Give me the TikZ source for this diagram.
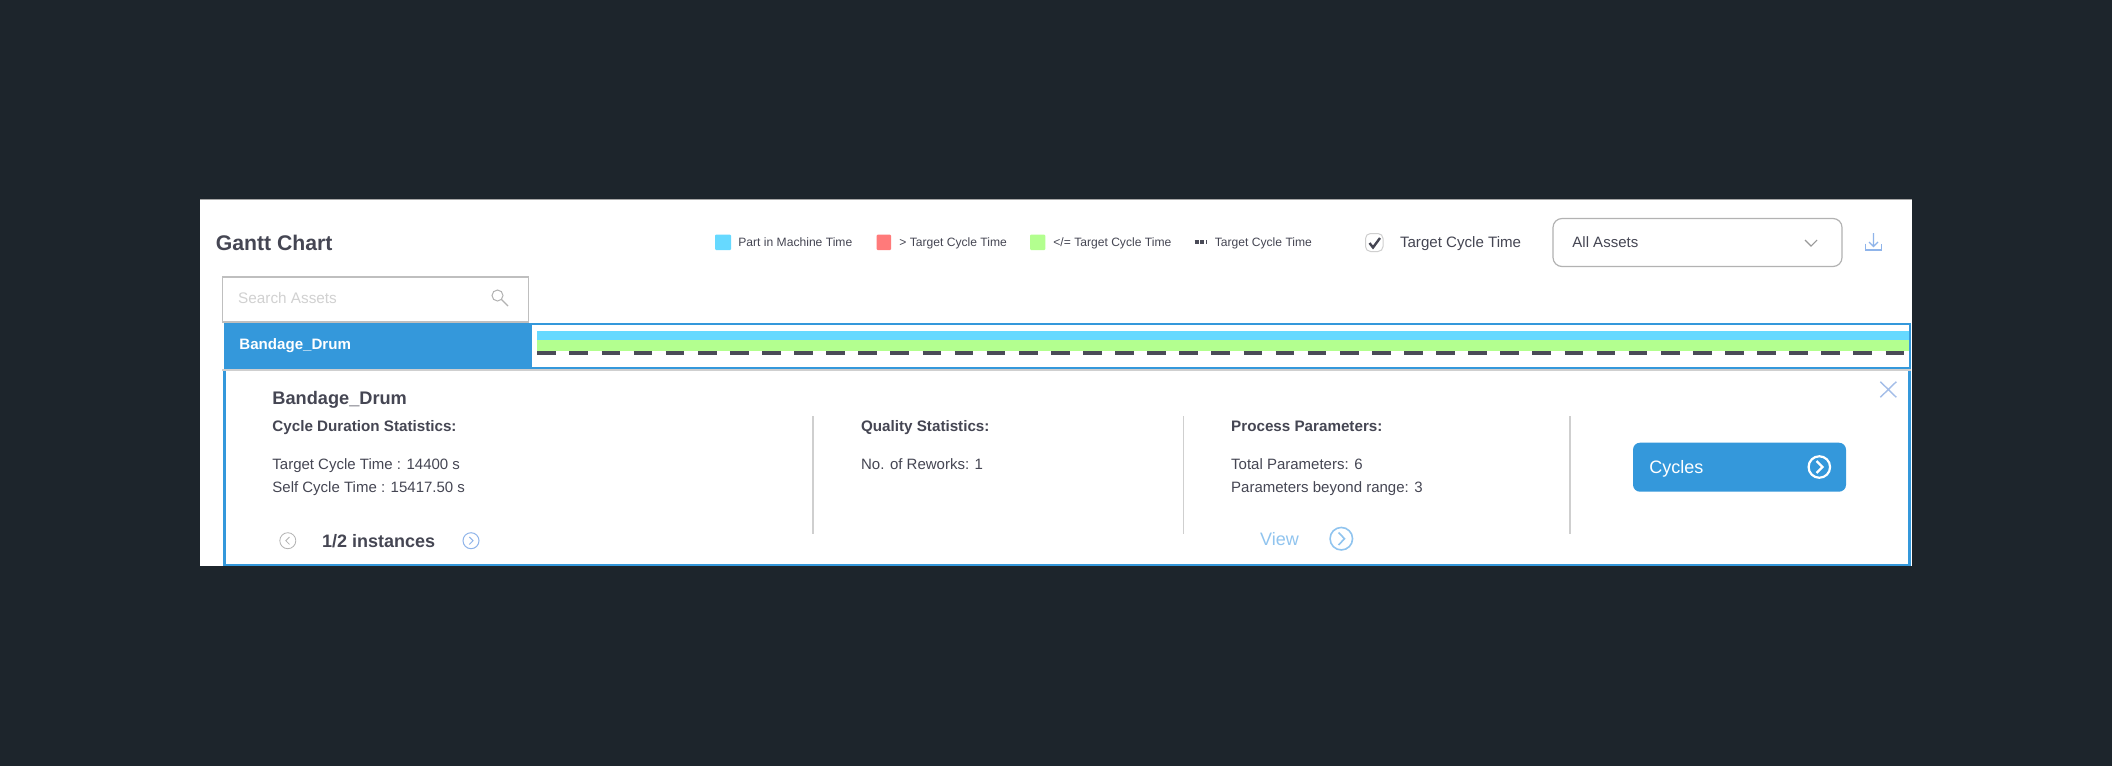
\documentclass[tikz,border=0pt]{standalone}
\usepackage{fontspec}
\setmainfont{Liberation Sans}
\definecolor{bgdark}{HTML}{1D252C}
\definecolor{brand}{HTML}{3498DB}
\definecolor{cyanbar}{HTML}{66D9FF}
\definecolor{greenbar}{HTML}{B3FF8F}
\definecolor{redbar}{HTML}{FF7A7A}
\definecolor{ink}{HTML}{454653}
\definecolor{dashink}{HTML}{4A4B57}
\definecolor{rule}{HTML}{CFCFCF}
\definecolor{soft}{HTML}{90C4EF}
\definecolor{icon}{HTML}{A3BDE8}
\definecolor{iconb}{HTML}{8FB4EA}
\tikzset{
  txt/.style={inner sep=0pt,anchor=base west,text=ink,font=\fontsize{#1}{#1}\selectfont},
  btxt/.style={inner sep=0pt,anchor=base west,text=ink,font=\fontsize{#1}{#1}\selectfont\bfseries},
  swatch/.style={fill=#1,draw=none,rounded corners=0.5pt},
  divider/.style={draw=rule,line width=0.55pt},
  ring/.style={circle,inner sep=0pt,minimum size=#1,draw},
}
\begin{document}
\begin{tikzpicture}[x=0.5pt,y=-0.5pt]
\useasboundingbox (0,0) rectangle (2112,766);
\fill[bgdark] (0,0) rectangle (2112,766);
% white panel
\fill[white] (200,200) rectangle (1912,566);
\draw[gray!70,line width=0.5pt] (200,199.6) -- (1912,199.6);
% title and legend
\node[btxt=10.6] (title) at (215.4,250) {Gantt Chart};
\fill[swatch=cyanbar] (715,234.7) rectangle (731,250);
\node[txt=6.05] (leg1) at (738,246.3) {Part in Machine Time};
\fill[swatch=redbar] (876.6,234.7) rectangle (891,250);
\node[txt=6.05] (leg2) at (899,246.3) {> Target Cycle Time};
\fill[swatch=greenbar] (1030,234.7) rectangle (1045.4,250);
\node[txt=6.05] (leg3) at (1053,246.3) {</= Target Cycle Time};
\draw[dashink,line width=2pt,dash pattern=on 2pt off 0.8pt] (1194.5,242.3) -- (1207,242.3);
\node[txt=6.05] (leg4) at (1214.5,246.3) {Target Cycle Time};
% checkbox
\draw[rule,fill=white,line width=0.5pt,rounded corners=2.5pt] (1365.5,233.5) rectangle (1383,251.5);
\draw[ink,line width=1.2pt] (1369.5,243) -- (1373,247.5) -- (1380,238);
\node[txt=7.55] (chk) at (1399.6,247.6) {Target Cycle Time};
% dropdown
\draw[gray!60,fill=white,line width=0.6pt,rounded corners=4.5pt] (1553,218.5) rectangle (1842,266.5);
\node[txt=7.5] (all) at (1572,247.6) {All Assets};
\draw[gray!80,line width=0.55pt] (1805,240) -- (1811,246) -- (1817,240);
% download icon
\draw[iconb,line width=0.6pt] (1873.5,233) -- (1873.5,246.5) (1869,242) -- (1873.5,246.5) -- (1878,242);
\draw[iconb,line width=0.7pt] (1865.5,243.5) -- (1865.5,250) -- (1881.5,250) -- (1881.5,243.5);
% search box
\draw[gray!50,fill=white,line width=0.6pt] (222.5,277) rectangle (528.5,322);
\node[txt=7.65,text=black!18] (search) at (237.8,303.5) {Search Assets};
\draw[gray!60,line width=0.5pt] (497.5,295.5) circle[radius=5.5];
\draw[gray!60,line width=0.6pt] (501.5,299.5) -- (508,306);
% asset row
\fill[white] (223.5,323) rectangle (1911,369);
\fill[brand] (223.5,323) rectangle (531.5,369);
\draw[brand,line width=1.1pt] (224.6,324.3) rectangle (1910,368);
\draw[rule,line width=0.6pt] (222,370) -- (1911,370);
\node[btxt=7.55,text=white] (asset) at (239,349.4) {Bandage\_Drum};
\fill[cyanbar] (537.3,331) rectangle (1909,340);
\fill[greenbar] (537.3,340) rectangle (1909,351);
\draw[dashink,line width=1.8pt,dash pattern=on 9.375pt off 6.675pt] (537.3,352.9) -- (1904,352.9);
% detail panel
\draw[brand,line width=1.2pt] (224.6,371) -- (224.6,565) -- (1909.6,565) -- (1909.6,371);
\node[btxt=9.1] (dname) at (272,404.8) {Bandage\_Drum};
\node[btxt=7.6] (h1) at (272,431.4) {Cycle Duration Statistics:};
\node[txt=7.5] (t1) at (272,469.6) {Target Cycle Time : 14400 s};
\node[txt=7.5] (t2) at (272,492.6) {Self Cycle Time : 15417.50 s};
\node[btxt=9] (inst) at (321.7,547.4) {1/2 instances};
\node[ring=8pt,draw=gray!60,line width=0.4pt] (prev) at (287.8,540.7) {};
\draw[gray!60,line width=0.4pt] (289.5,537) -- (285.8,540.7) -- (289.5,544.4);
\node[ring=8pt,draw=iconb,line width=0.5pt] (next) at (471,540.7) {};
\draw[iconb,line width=0.5pt] (469.3,537) -- (473,540.7) -- (469.3,544.4);
\coordinate (d1a) at (813,416); \coordinate (d1b) at (813,534.3);
\coordinate (d2a) at (1183.5,416); \coordinate (d2b) at (1183.5,534.3);
\coordinate (d3a) at (1570,416); \coordinate (d3b) at (1570,534.3);
\draw[divider] (d1a) -- (d1b);
\draw[divider] (d2a) -- (d2b);
\draw[divider] (d3a) -- (d3b);
\node[btxt=7.6] (h2) at (860.7,431.4) {Quality Statistics:};
\node[txt=7.5] (q1) at (860.7,469.6) {No. of Reworks: 1};
\node[btxt=7.6] (h3) at (1230.8,431.4) {Process Parameters:};
\node[txt=7.5] (p1) at (1230.8,469.6) {Total Parameters: 6};
\node[txt=7.5] (p2) at (1230.8,492.6) {Parameters beyond range: 3};
\node[txt=9,text=soft] (view) at (1259.8,545.5) {View};
\node[ring=11.25pt,draw=soft,line width=0.8pt] (vring) at (1341.3,538.7) {};
\draw[soft,line width=0.8pt] (1338.5,532.5) -- (1344.5,538.7) -- (1338.5,545);
% cycles button
\fill[brand,rounded corners=3.5pt] (1633,442.7) rectangle (1846,491.7);
\node[txt=9,text=white] (cyc) at (1649,473.5) {Cycles};
\node[ring=10.75pt,draw=white,line width=1.1pt] (cring) at (1819.3,467) {};
\draw[white,line width=1.1pt] (1816.5,461) -- (1822.5,467) -- (1816.5,473);
% close icon
\draw[icon,line width=0.7pt] (1880.3,381.7) -- (1896.3,397.3) (1896.3,381.7) -- (1880.3,397.3);
\end{tikzpicture}
\end{document}
